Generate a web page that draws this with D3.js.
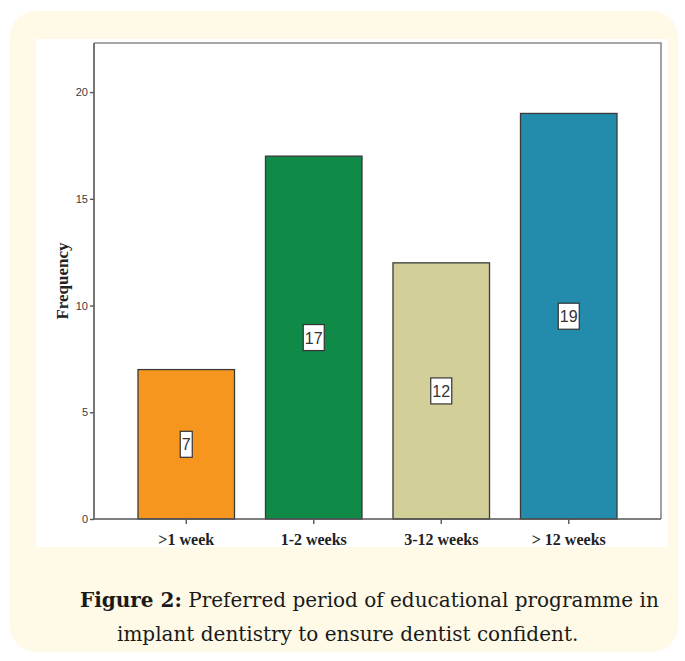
<!DOCTYPE html>
<html>
<head>
<meta charset="utf-8">
<script src="https://cdn.jsdelivr.net/npm/d3@7"></script>
<style>
  html, body { margin: 0; padding: 0; background: #ffffff; }
  svg { display: block; }
</style>
</head>
<body>
<svg id="chart" width="685" height="661"></svg>
<script>
// Preferred period of educational programme (frequency counts)
const categories = [">1 week", "1-2 weeks", "3-12 weeks", "> 12 weeks"];
const frequencies = [7, 17, 12, 19];
const barColors = ["#F7961E", "#108A47", "#D3CF98", "#238BAC"];
const yTicks = [0, 5, 10, 15, 20];
const yLabel = "Frequency";
const captionBold = "Figure 2:";
const captionLine1 = " Preferred period of educational programme in";
const captionLine2 = "implant dentistry to ensure dentist confident.";

const svg = d3.select("#chart");

// Card background
svg.append("rect")
  .attr("x", 10).attr("y", 11)
  .attr("width", 668).attr("height", 641)
  .attr("rx", 26).attr("ry", 26)
  .attr("fill", "#FEFAE7");

// White chart panel
svg.append("rect")
  .attr("x", 36).attr("y", 39)
  .attr("width", 632).attr("height", 508)
  .attr("fill", "#ffffff");

const plot = { left: 94, right: 661, top: 43, bottom: 519 };

const x = d3.scaleBand()
  .domain(categories)
  .range([plot.left, plot.right])
  .paddingInner(0.243)
  .paddingOuter(0.345);

const y = d3.scaleLinear()
  .domain([0, 22.3])
  .range([plot.bottom, plot.top]);

// Plot frame (top and right)
svg.append("path")
  .attr("d", `M${plot.left},${plot.top}H${plot.right}V${plot.bottom}`)
  .attr("fill", "none")
  .attr("stroke", "#8a8a8a")
  .attr("stroke-width", 1.6);

// Bars
svg.append("g").selectAll("rect")
  .data(frequencies)
  .join("rect")
  .attr("x", (d, i) => x(categories[i]))
  .attr("y", d => y(d))
  .attr("width", x.bandwidth())
  .attr("height", d => y(0) - y(d))
  .attr("fill", (d, i) => barColors[i])
  .attr("stroke", "#3a3a3a")
  .attr("stroke-width", 1.3);

// Y axis
const yAxis = svg.append("g")
  .attr("transform", `translate(${plot.left},0)`)
  .call(d3.axisLeft(y).tickValues(yTicks).tickSize(4).tickPadding(2).tickSizeOuter(0));
yAxis.select(".domain")
  .attr("d", `M0,${plot.top}V${plot.bottom}`)
  .attr("stroke", "#555").attr("stroke-width", 1.6);
yAxis.selectAll(".tick line").attr("stroke", "#555").attr("stroke-width", 1.4);
yAxis.selectAll(".tick text")
  .attr("font-family", "Liberation Sans, Arial, sans-serif")
  .attr("font-size", 11)
  .attr("fill", "#3a3a3a");

// X axis
const xAxis = svg.append("g")
  .attr("transform", `translate(0,${plot.bottom})`)
  .call(d3.axisBottom(x).tickSize(5).tickPadding(10).tickSizeOuter(0));
xAxis.select(".domain")
  .attr("d", `M${plot.left},0H${plot.right}`)
  .attr("stroke", "#555").attr("stroke-width", 1.6);
xAxis.selectAll(".tick line").attr("stroke", "#555").attr("stroke-width", 1.4);
xAxis.selectAll(".tick text")
  .attr("font-family", "Liberation Serif, Times New Roman, serif")
  .attr("font-weight", "bold")
  .attr("font-size", 16)
  .attr("fill", "#222");

// Y axis title
svg.append("text")
  .attr("transform", `translate(62,${(plot.top + plot.bottom) / 2}) rotate(-90)`)
  .attr("text-anchor", "middle")
  .attr("dominant-baseline", "central")
  .attr("font-family", "Liberation Serif, Times New Roman, serif")
  .attr("font-weight", "bold")
  .attr("font-size", 17)
  .attr("fill", "#222")
  .text(yLabel);

// Value labels inside bars
const labels = svg.append("g").selectAll("g")
  .data(frequencies)
  .join("g")
  .attr("transform", (d, i) => `translate(${x(categories[i]) + x.bandwidth() / 2},${y(d / 2)})`);

labels.each(function(d) {
  const g = d3.select(this);
  const w = String(d).length === 1 ? 12 : 21;
  g.append("rect")
    .attr("x", -w / 2).attr("y", -13)
    .attr("width", w).attr("height", 26)
    .attr("fill", "#ffffff")
    .attr("stroke", "#333")
    .attr("stroke-width", 1.2);
  g.append("text")
    .attr("text-anchor", "middle")
    .attr("y", 6)
    .attr("font-family", "Liberation Sans, Arial, sans-serif")
    .attr("font-size", 16)
    .attr("fill", "#333")
    .text(d);
});

// Caption
const cap1 = svg.append("text")
  .attr("x", 80).attr("y", 607)
  .attr("font-family", "DejaVu Serif, serif")
  .attr("font-size", 20)
  .attr("fill", "#1a1a1a");
cap1.append("tspan").attr("font-weight", "bold").text(captionBold);
cap1.append("tspan").text(captionLine1);

svg.append("text")
  .attr("x", 117).attr("y", 641)
  .attr("font-family", "DejaVu Serif, serif")
  .attr("font-size", 20)
  .attr("fill", "#1a1a1a")
  .text(captionLine2);
</script>
</body>
</html>
